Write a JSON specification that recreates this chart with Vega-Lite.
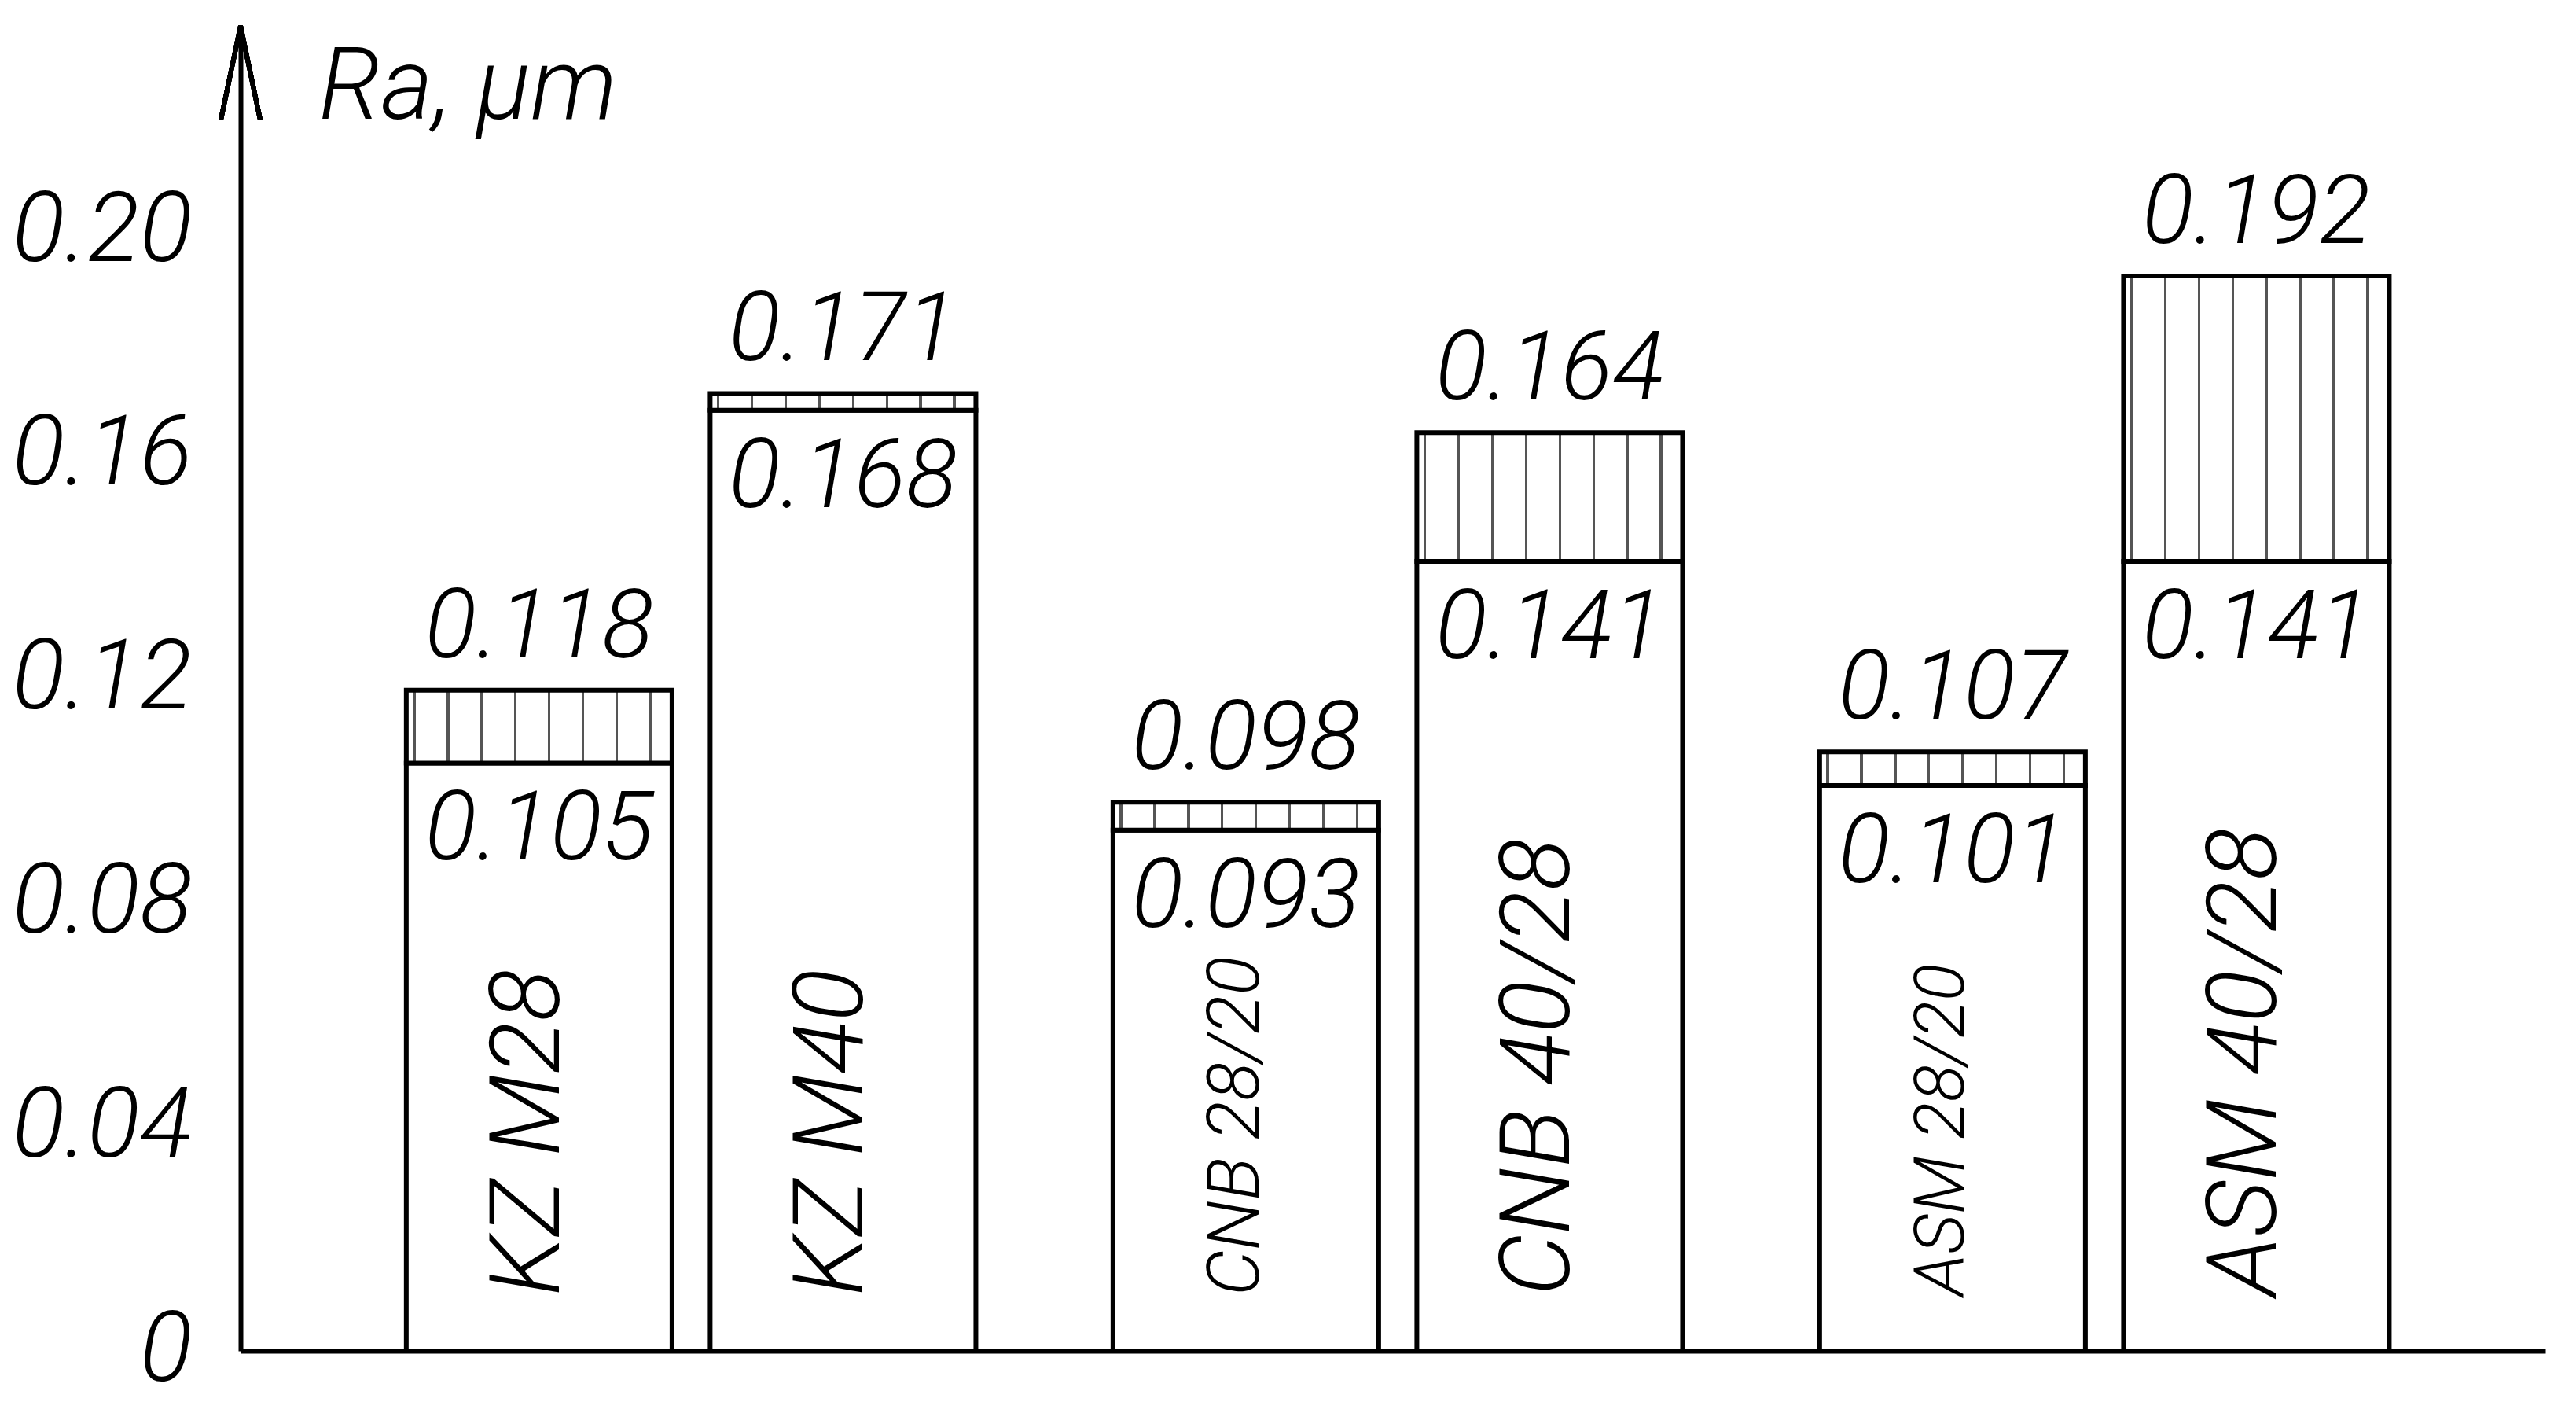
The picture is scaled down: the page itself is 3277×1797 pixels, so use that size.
{
  "$schema": "https://vega.github.io/schema/vega-lite/v6.json",
  "autosize": {"type": "none"},
  "padding": {"left": 306, "top": 33, "right": 39, "bottom": 79},
  "width": 2932,
  "height": 1685,
  "background": "white",
  "config": {
    "view": {"stroke": null},
    "font": "Roboto",
    "text": {"font": "Roboto", "fontStyle": "italic", "fontWeight": 300, "fontSize": 122, "color": "black"}
  },
  "data": {
    "values": [
      {"group": "KZ", "grain": "fine", "label": "KZ M28", "lower": 0.105, "upper": 0.118},
      {"group": "KZ", "grain": "coarse", "label": "KZ M40", "lower": 0.168, "upper": 0.171},
      {"group": "CNB", "grain": "fine", "label": "CNB 28/20", "lower": 0.093, "upper": 0.098},
      {"group": "CNB", "grain": "coarse", "label": "CNB 40/28", "lower": 0.141, "upper": 0.164},
      {"group": "ASM", "grain": "fine", "label": "ASM 28/20", "lower": 0.101, "upper": 0.107},
      {"group": "ASM", "grain": "coarse", "label": "ASM 40/28", "lower": 0.141, "upper": 0.192}
    ]
  },
  "encoding": {
    "x": {
      "field": "group", "type": "nominal",
      "scale": {"domain": ["KZ", "CNB", "ASM"], "paddingInner": 0.194, "paddingOuter": 0.2277, "align": 0.515},
      "axis": {"title": null, "labels": false, "ticks": false, "grid": false, "domain": true, "domainColor": "black", "domainWidth": 6}
    },
    "xOffset": {
      "field": "grain", "type": "nominal",
      "scale": {"domain": ["fine", "coarse"], "paddingInner": 0.1255, "paddingOuter": 0}
    }
  },
  "layer": [
    {
      "mark": {"type": "bar", "fill": "white", "stroke": "black", "strokeWidth": 6},
      "encoding": {
        "y": {
          "field": "lower", "type": "quantitative", "stack": null,
          "scale": {"domain": [0, 0.23666], "nice": false, "zero": true},
          "axis": {
            "values": [0, 0.04, 0.08, 0.12, 0.16, 0.2],
            "labelExpr": "datum.value == 0 ? '0' : format(datum.value, '.2f')",
            "ticks": false, "grid": false,
            "domain": true, "domainColor": "black", "domainWidth": 6,
            "labelFont": "Roboto", "labelFontStyle": "italic", "labelFontWeight": 300, "labelFontSize": 124, "labelColor": "black",
            "labelPadding": 62, "labelAlign": "right", "labelBaseline": "middle", "labelLimit": 0,
            "title": "Ra, μm", "titleFont": "Roboto", "titleFontStyle": "italic", "titleFontWeight": 300,
            "titleFontSize": 128, "titleColor": "black", "titleAngle": 0, "titleAlign": "left", "titleBaseline": "alphabetic",
            "titleX": 99, "titleY": 117, "titleLimit": 0
          }
        }
      }
    },
    {
      "mark": {
        "type": "bar", "stroke": "black", "strokeWidth": 6,
        "fill": {
          "gradient": "linear", "x1": 0, "y1": 0, "x2": 1, "y2": 0,
          "stops": [
            {"offset": 0, "color": "white"},
            {"offset": 0.025, "color": "white"}, {"offset": 0.025, "color": "#555555"}, {"offset": 0.035, "color": "#555555"}, {"offset": 0.035, "color": "white"},
            {"offset": 0.152, "color": "white"}, {"offset": 0.152, "color": "#555555"}, {"offset": 0.162, "color": "#555555"}, {"offset": 0.162, "color": "white"},
            {"offset": 0.279, "color": "white"}, {"offset": 0.279, "color": "#555555"}, {"offset": 0.289, "color": "#555555"}, {"offset": 0.289, "color": "white"},
            {"offset": 0.406, "color": "white"}, {"offset": 0.406, "color": "#555555"}, {"offset": 0.416, "color": "#555555"}, {"offset": 0.416, "color": "white"},
            {"offset": 0.533, "color": "white"}, {"offset": 0.533, "color": "#555555"}, {"offset": 0.543, "color": "#555555"}, {"offset": 0.543, "color": "white"},
            {"offset": 0.660, "color": "white"}, {"offset": 0.660, "color": "#555555"}, {"offset": 0.670, "color": "#555555"}, {"offset": 0.670, "color": "white"},
            {"offset": 0.787, "color": "white"}, {"offset": 0.787, "color": "#555555"}, {"offset": 0.797, "color": "#555555"}, {"offset": 0.797, "color": "white"},
            {"offset": 0.914, "color": "white"}, {"offset": 0.914, "color": "#555555"}, {"offset": 0.924, "color": "#555555"}, {"offset": 0.924, "color": "white"},
            {"offset": 1, "color": "white"}
          ]
        }
      },
      "encoding": {
        "y": {"field": "upper", "type": "quantitative", "stack": null},
        "y2": {"field": "lower"}
      }
    },
    {
      "mark": {"type": "text", "align": "center", "baseline": "alphabetic", "dy": -42},
      "encoding": {
        "y": {"field": "upper", "type": "quantitative"},
        "text": {"field": "upper", "type": "quantitative", "format": ".3f"}
      }
    },
    {
      "mark": {"type": "text", "align": "center", "baseline": "alphabetic", "dy": 123},
      "encoding": {
        "y": {"field": "lower", "type": "quantitative"},
        "text": {"field": "lower", "type": "quantitative", "format": ".3f"}
      }
    },
    {
      "mark": {"type": "text", "angle": 270, "align": "left", "baseline": "middle", "dx": 70, "dy": -12},
      "encoding": {
        "y": {"datum": 0},
        "text": {"field": "label", "type": "nominal"},
        "size": {
          "condition": [
            {"test": "datum.label == 'CNB 28/20'", "value": 92},
            {"test": "datum.label == 'ASM 28/20'", "value": 88}
          ],
          "value": 124
        }
      }
    },
    {
      "mark": {"type": "point", "shape": "M -0.42 2 L 0 0 L 0.42 2", "size": 14161, "filled": false, "stroke": "black", "strokeWidth": 6, "opacity": 1, "strokeJoin": "miter"},
      "encoding": {
        "x": {"value": 0},
        "xOffset": null,
        "y": {"datum": 0.23666}
      }
    }
  ]
}
